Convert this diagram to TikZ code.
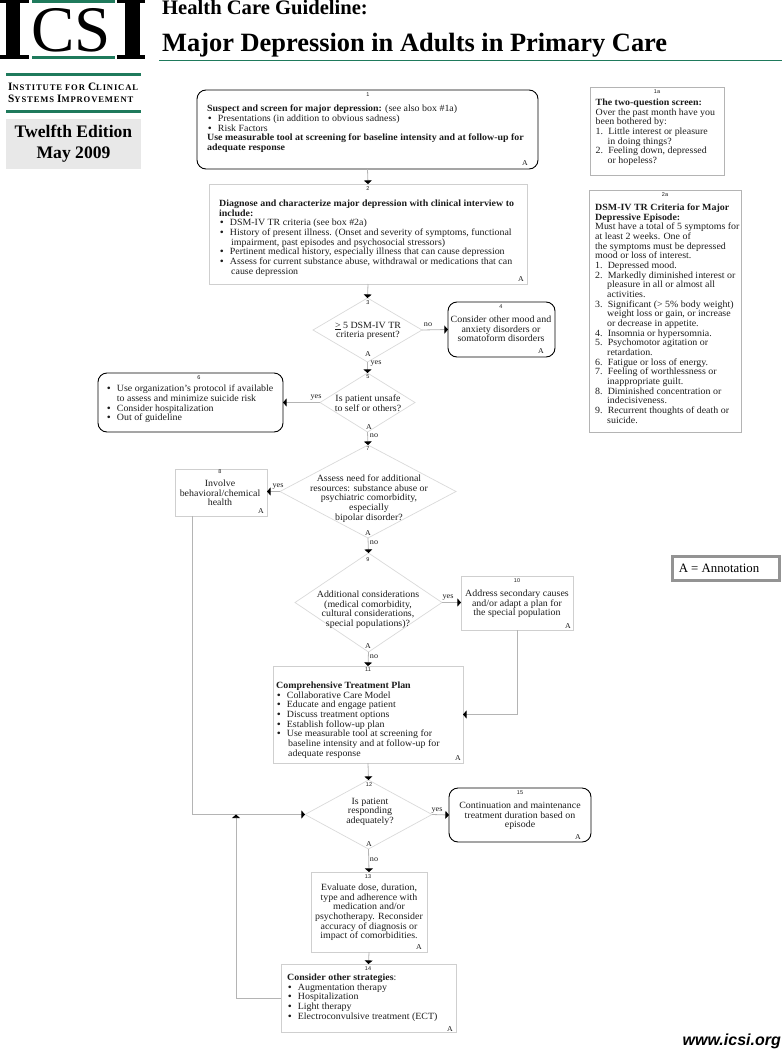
\documentclass[tikz,border=0pt]{standalone}
\usepackage{fontspec}
\usetikzlibrary{arrows.meta,shapes.geometric,calc}
\setmainfont[FakeStretch=1.045]{Liberation Serif}
\newfontfamily\headfont{Liberation Serif}
\newfontfamily\capsfont[LetterSpace=10]{Liberation Serif}
\newfontfamily\tagfont{Liberation Sans}
\definecolor{icsigreen}{HTML}{1F7A5C}
\definecolor{inkc}{HTML}{1C1C1C}
\definecolor{boxline}{HTML}{CFCFCF}
\definecolor{wireline}{HTML}{B4B4B4}
\definecolor{editionbg}{HTML}{E8E8E8}
% list helpers: bullet item, numbered item, continuation line
\newcommand{\bitem}[1]{\hspace*{1pt}\makebox[9.7pt][l]{\textbf{•}}#1}
\newcommand{\nitem}[2]{\makebox[12.6pt][l]{#1.}#2}
\newcommand{\contline}[2][12pt]{\hspace*{#1}#2}
\newcommand{\bodyfont}{\fontsize{9.5}{9.66}\selectfont}
\tikzset{
  x=1pt,y=-1pt,
  plainbox/.style={draw=boxline,line width=.8pt,rectangle,inner sep=0,outer sep=0},
  roundbox/.style={draw=black,line width=.9pt,rectangle,rounded corners=9pt,inner sep=0,outer sep=0},
  choice/.style={draw=boxline!80,line width=.7pt,diamond,inner sep=0,outer sep=0,aspect=1.5},
  sidebox/.style={draw=wireline,line width=1pt,rectangle,inner sep=0,outer sep=0},
  wire/.style={draw=wireline,line width=.8pt,-{Triangle[width=8pt,length=3.6pt,color=black]}},
  listtext/.style={inner sep=0,anchor=north west,align=left,font=\bodyfont,text=inkc,yshift=-1.2pt},
  midtext/.style={inner sep=0,anchor=north,align=center,font=\bodyfont,text=inkc,yshift=-1.2pt},
  numtag/.style={inner sep=0,font=\tagfont\fontsize{5.5}{6}\selectfont,text=inkc},
  annot/.style={inner sep=0,font=\fontsize{7.5}{8}\selectfont,text=inkc},
  branch/.style={inner sep=0,font=\fontsize{7.8}{8}\selectfont,text=inkc}
}
\begin{document}
\begin{tikzpicture}
\useasboundingbox (0,0) rectangle (782,1049);

% masthead: logo bars
\fill[black] (0,0) rectangle (29,3);
\fill[black] (0,55) rectangle (29,59);
\fill[black] (6,0) rectangle (20,59);
\fill[black] (117,0) rectangle (145,3);
\fill[black] (117,55) rectangle (145,59);
\fill[black] (125,0) rectangle (140,59);
\fill[icsigreen] (32,0) rectangle (115,3);
\fill[icsigreen] (32,56) rectangle (115,59);
\node (logoletters) [inner sep=0,font=\headfont\fontsize{65}{65}\selectfont] at (71,30) {CS};

% masthead: titles and rule
\node (kicker) [inner sep=0,anchor=base west,font=\headfont\bfseries\fontsize{20.6}{21}\selectfont] at (162,15) {Health Care Guideline:};
\node (title) [inner sep=0,anchor=base west,font=\headfont\bfseries\fontsize{26.4}{27}\selectfont] at (162,52) {Major Depression in Adults in Primary Care};
\fill[icsigreen] (159,60) rectangle (782,61);

% institute block
\fill[icsigreen] (6,73) rectangle (141,76);
\node (inst1) [inner sep=0,anchor=base west,font=\capsfont\bfseries\fontsize{8.6}{9}\selectfont] at (8,90) {{\fontsize{11.3}{9}\selectfont I}NSTITUTE FOR {\fontsize{11.3}{9}\selectfont C}LINICAL};
\node (inst2) [inner sep=0,anchor=base west,font=\capsfont\bfseries\fontsize{8.6}{9}\selectfont] at (8,102) {{\fontsize{11.3}{9}\selectfont S}YSTEMS {\fontsize{11.3}{9}\selectfont I}MPROVEMENT};
\fill[icsigreen] (6,110) rectangle (141,113);
\node (edition) [fill=editionbg,minimum width=135pt,minimum height=50pt,inner sep=0,align=center,font=\headfont\bfseries\fontsize{17.6}{21}\selectfont] at (73.5,143.5) {Twelfth Edition\\May 2009};

% flowchart shapes
\node (b1) [roundbox,minimum width=341pt,minimum height=79pt] at (367.5,129.5) {};
\node (b2) [plainbox,minimum width=318pt,minimum height=100pt] at (368,234) {};
\node (d3) [choice,minimum width=109pt,minimum height=64pt] at (367.5,330) {};
\node (b4) [roundbox,minimum width=107pt,minimum height=55pt] at (501.5,329.5) {};
\node (d5) [choice,minimum width=95pt,minimum height=59pt] at (367.5,402.5) {};
\node (b6) [roundbox,minimum width=185pt,minimum height=59pt] at (190.5,402.5) {};
\node (d7) [choice,minimum width=176pt,minimum height=93pt] at (368,491.5) {};
\node (b8) [plainbox,minimum width=92pt,minimum height=47pt] at (221,492.5) {};
\node (d9) [choice,minimum width=147pt,minimum height=99pt] at (368.5,602.5) {};
\node (b10) [plainbox,minimum width=112pt,minimum height=54pt] at (517,603) {};
\node (b11) [plainbox,minimum width=190pt,minimum height=97pt] at (368,714.5) {};
\node (d12) [choice,minimum width=127pt,minimum height=69pt] at (368.5,814.5) {};
\node (b15) [roundbox,minimum width=142pt,minimum height=54pt] at (520,815) {};
\node (b13) [plainbox,minimum width=116pt,minimum height=80pt] at (369,912) {};
\node (b14) [plainbox,minimum width=175pt,minimum height=68pt] at (368.5,998) {};
\node (s1a) [sidebox,minimum width=134pt,minimum height=88pt] at (657,131) {};
\node (s2a) [sidebox,minimum width=152pt,minimum height=242pt] at (665,311) {};
\node (legend) [draw=gray!85,line width=2.2pt,minimum width=107pt,minimum height=24pt,inner sep=0,font=\headfont\fontsize{12.8}{14}\selectfont] at (726,568.5) {\hspace*{-14pt}A = Annotation};

% connector waypoints
\coordinate (loopdrop) at ($(b8.south west)+(17.5,0)$);
\coordinate (rejoin) at (236,814.5);

% connectors
\draw[wire] (b1.south) -- (b2.north);
\draw[wire] (b2.south) -- (d3.north);
\draw[wire] (d3.east) -- (b4.west);
\draw[wire] (d3.south) -- (d5.north);
\draw[wire] (d5.west) -- (b6.east);
\draw[wire] (d5.south) -- (d7.north);
\draw[wire] (d7.west) -- (d7.west -| b8.east);
\draw[wire] (d7.south) -- (d9.north);
\draw[wire] (d9.east) -- (d9.east -| b10.west);
\draw[wire] (d9.south) -- (b11.north);
\draw[wire] (b10.south) |- (b11.east);
\draw[wire] (b11.south) -- (d12.north);
\draw[wire] (loopdrop) |- (d12.west);
\draw[wire] (d12.east) -- (b15.west);
\draw[wire] (d12.south) -- (b13.north);
\draw[wire] (b13.south) -- (b14.north);
\draw[wire] (b14.west) -| (rejoin);

% box 1
\node (n1) [numtag] at (368,95) {1};
\node (t1) [listtext] at (207,103.6) {\textbf{Suspect and screen for major depression:} (see also box \#1a)\\
\bitem{Presentations (in addition to obvious sadness)}\\
\bitem{Risk Factors}\\
\textbf{Use measurable tool at screening for baseline intensity and at follow-up for}\\
\textbf{adequate response}};
\node (a1) [annot] at (525,163) {A};

% box 2
\node (n2) [numtag] at (368,189) {2};
\node (t2) [listtext] at (219,198.6) {\textbf{Diagnose and characterize major depression with clinical interview to}\\
\textbf{include:}\\
\bitem{DSM-IV TR criteria (see box \#2a)}\\
\bitem{History of present illness.  (Onset and severity of symptoms, functional}\\
\contline{impairment, past episodes and psychosocial stressors)}\\
\bitem{Pertinent medical history, especially illness that can cause depression}\\
\bitem{Assess for current substance abuse, withdrawal or medications that can}\\
\contline{cause depression}};
\node (a2) [annot] at (521,279) {A};

% decision 3 and box 4
\node (n3) [numtag] at (368,303) {3};
\node (t3) [midtext] at (368,320.5) {\underline{>} 5 DSM-IV TR\\criteria present?};
\node (a3) [annot] at (368,354) {A};
\node (l3no) [branch] at (428,325) {no};
\node (l3yes) [branch] at (376,364) {yes};
\node (n4) [numtag] at (501,307) {4};
\node (t4) [midtext] at (501,314.5) {Consider other mood and\\anxiety disorders or\\somatoform disorders};
\node (a4) [annot] at (541,351) {A};

% decision 5 and box 6
\node (n5) [numtag] at (368,377) {5};
\node (t5) [midtext] at (368,393.5) {Is patient unsafe\\to self or others?};
\node (a5) [annot] at (369,427) {A};
\node (l5no) [branch] at (374,436) {no};
\node (l5yes) [branch] at (316,397) {yes};
\node (n6) [numtag] at (199,378) {6};
\node (t6) [listtext] at (106,383.6) {\bitem{Use organization's protocol if available}\\
\contline[10.7pt]{to assess and minimize suicide risk}\\
\bitem{Consider hospitalization}\\
\bitem{Out of guideline}};

% decision 7 and box 8
\node (n7) [numtag] at (368,449) {7};
\node (t7) [midtext] at (369,473.5) {Assess need for additional\\resources: substance abuse or\\psychiatric comorbidity,\\especially\\bipolar disorder?};
\node (a7) [annot] at (368,533) {A};
\node (l7no) [branch] at (374,543) {no};
\node (l7yes) [branch] at (278,486) {yes};
\node (n8) [numtag] at (220,472) {8};
\node (t8) [midtext] at (220,478.5) {Involve\\behavioral/chemical\\health};
\node (a8) [annot] at (261,511) {A};

% decision 9 and box 10
\node (n9) [numtag] at (368,560) {9};
\node (t9) [midtext] at (368,589.5) {Additional considerations\\(medical comorbidity,\\cultural considerations,\\special populations)?};
\node (a9) [annot] at (368,646) {A};
\node (l9no) [branch] at (374,657) {no};
\node (l9yes) [branch] at (448,597) {yes};
\node (n10) [numtag] at (517,581) {10};
\node (t10) [midtext] at (517,588.5) {Address secondary causes\\and/or adapt a plan for\\the special population};
\node (a10) [annot] at (568,626) {A};

% box 11
\node (n11) [numtag] at (368,670) {11};
\node (t11) [listtext] at (276,680.5) {\textbf{Comprehensive Treatment Plan}\\
\bitem{Collaborative Care Model}\\
\bitem{Educate and engage patient}\\
\bitem{Discuss treatment options}\\
\bitem{Establish follow-up plan}\\
\bitem{Use measurable tool at screening for}\\
\contline{baseline intensity and at follow-up for}\\
\contline{adequate response}};
\node (a11) [annot] at (458,758) {A};

% decision 12 and box 15
\node (n12) [numtag] at (369,785) {12};
\node (t12) [midtext] at (370,796.5) {Is patient\\responding\\adequately?};
\node (a12) [annot] at (369,844) {A};
\node (l12no) [branch] at (374,860) {no};
\node (l12yes) [branch] at (437,810) {yes};
\node (n15) [numtag] at (520,793) {15};
\node (t15) [midtext] at (520,800.5) {Continuation and maintenance\\treatment duration based on\\episode};
\node (a15) [annot] at (578,837) {A};

% box 13
\node (n13) [numtag] at (368,876.5) {13};
\node (t13) [midtext] at (369,882.5) {Evaluate dose, duration,\\type and adherence with\\medication and/or\\psychotherapy. Reconsider\\accuracy of diagnosis or\\impact of comorbidities.};
\node (a13) [annot] at (419,947) {A};

% box 14
\node (n14) [numtag] at (368,969) {14};
\node (t14) [listtext] at (287,972.5) {\textbf{Consider other strategies}:\\
\bitem{Augmentation therapy}\\
\bitem{Hospitalization}\\
\bitem{Light therapy}\\
\bitem{Electroconvulsive treatment (ECT)}};
\node (a14) [annot] at (450,1029) {A};

% side panel 1a
\node (n1a) [numtag] at (657,92) {1a};
\node (t1a) [listtext] at (595.5,97.5) {\textbf{The two-question screen:}\\
Over the past month have you\\
been bothered by:\\
\nitem{1}{Little interest or pleasure}\\
\contline{in doing things?}\\
\nitem{2}{Feeling down, depressed}\\
\contline{or hopeless?}};

% side panel 2a
\node (n2a) [numtag] at (665,195) {2a};
\node (t2a) [listtext] at (595,202.5) {\textbf{DSM-IV TR Criteria for Major}\\
\textbf{Depressive Episode:}\\
Must have a total of 5 symptoms for\\
at least 2 weeks.  One of\\
the symptoms must be depressed\\
mood or loss of interest.\\
\nitem{1}{Depressed mood.}\\
\nitem{2}{Markedly diminished interest or}\\
\contline{pleasure in all or almost all}\\
\contline{activities.}\\
\nitem{3}{Significant (> 5\% body weight)}\\
\contline{weight loss or gain, or increase}\\
\contline{or decrease in appetite.}\\
\nitem{4}{Insomnia or hypersomnia.}\\
\nitem{5}{Psychomotor agitation or}\\
\contline{retardation.}\\
\nitem{6}{Fatigue or loss of energy.}\\
\nitem{7}{Feeling of worthlessness or}\\
\contline{inappropriate guilt.}\\
\nitem{8}{Diminished concentration or}\\
\contline{indecisiveness.}\\
\nitem{9}{Recurrent thoughts of death or}\\
\contline{suicide.}};

% site address
\node (site) [inner sep=0,anchor=base east,font=\tagfont\bfseries\itshape\fontsize{16}{16}\selectfont] at (781,1045) {www.icsi.org};
\end{tikzpicture}
\end{document}
